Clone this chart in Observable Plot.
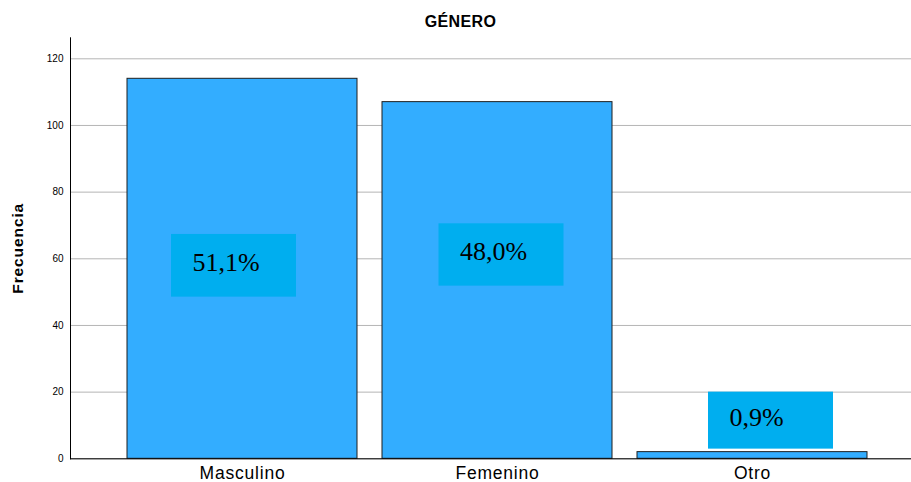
<!DOCTYPE html>
<html>
<head>
<meta charset="utf-8">
<script src="https://cdn.jsdelivr.net/npm/d3@7"></script>
<script src="https://cdn.jsdelivr.net/npm/@observablehq/plot@0.6"></script>
<style>
  html, body { margin: 0; padding: 0; background: #fff; }
  #wrap { position: relative; width: 911px; height: 482px; }
  #title { position: absolute; left: 10px; top: 14px; width: 901px; text-align: center;
           font: bold 16px "Liberation Sans", Arial, sans-serif; line-height: 1; color: #000; letter-spacing: 0.4px; }
  svg { display: block; }
  g[aria-label="x-axis tick label"] text { letter-spacing: 0.8px; }
  g.ylab text { letter-spacing: 0.9px; }
</style>
</head>
<body>
<div id="wrap"><div id="title">GÉNERO</div></div>
<script>
const categories = ["Masculino", "Femenino", "Otro"];
const frecuencias = [114, 107, 2];
const porcentajes = ["51,1%", "48,0%", "0,9%"];
// label box extents in data units
const labelTop = [67.3, 70.5, 20.0];
const labelBottom = [48.5, 51.8, 2.9];
const yTicks = [0, 20, 40, 60, 80, 100, 120];

const data = categories.map((c, i) => ({genero: c, frecuencia: frecuencias[i]}));
const labels = categories.map((c, i) => ({genero: c, texto: porcentajes[i], hi: labelTop[i], lo: labelBottom[i]}));

const shifts = [-8.5, 4, 18.5];
const boxW = 125, bandW = 230;

const labelMarks = labels.map((d, i) => {
  const s = shifts[i];
  return [
    Plot.rect([d], {x: "genero", y1: "lo", y2: "hi", fill: "#00aeef",
      insetLeft: (bandW - boxW) / 2 + s, insetRight: (bandW - boxW) / 2 - s}),
    Plot.text([d], {x: "genero", y: (r) => (r.hi + r.lo) / 2, text: "texto",
      textAnchor: "start", lineAnchor: "middle", dx: s - boxW / 2 + 21, dy: -3,
      fontSize: 26, fontFamily: "Liberation Serif, Times New Roman, serif", fill: "#000"})
  ];
});

const chart = Plot.plot({
  width: 911,
  height: 482,
  marginLeft: 70,
  marginRight: 0,
  marginTop: 37.3,
  marginBottom: 23.7,
  style: {fontFamily: "Liberation Sans, Arial, sans-serif", background: "transparent", color: "#000"},
  x: {domain: categories, range: [113.2, 879.7], paddingInner: 0.1, paddingOuter: 0.05, label: null},
  y: {domain: [0, 126.3], label: null},
  marks: [
    Plot.gridY(yTicks, {stroke: "#b5b5b5", strokeOpacity: 1, strokeWidth: 1}),
    Plot.barY(data, {x: "genero", y: "frecuencia", fill: "#33adff", stroke: "#1f1f1f", strokeWidth: 1}),
    ...labelMarks.flat(),
    Plot.axisY(yTicks, {tickSize: 0, tickPadding: 7, fontSize: 10, label: null}),
    Plot.axisX({tickSize: 0, tickPadding: 7.5, fontSize: 17.5, label: null}),
    Plot.frame({anchor: "left", stroke: "#000"}),
    Plot.frame({anchor: "bottom", stroke: "#000"}),
    Plot.text(["Frecuencia"], {frameAnchor: "left", dx: -52, rotate: -90, text: (d) => d,
      fontSize: 15.5, fontWeight: "bold", textAnchor: "middle", lineAnchor: "middle", fill: "#000",
      className: "ylab"})
  ]
});
document.getElementById("wrap").appendChild(chart);
</script>
</body>
</html>
